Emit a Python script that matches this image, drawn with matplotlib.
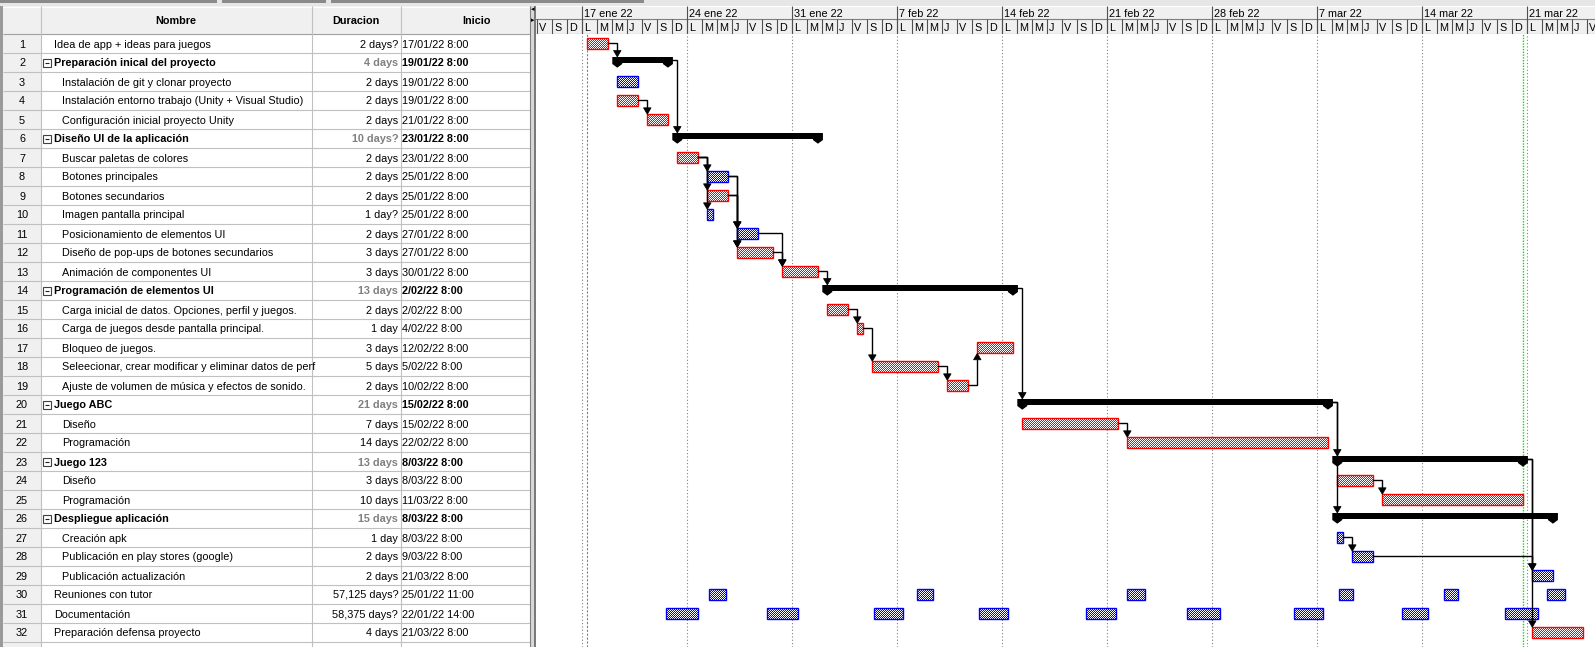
import matplotlib
matplotlib.use("Agg")
import matplotlib.pyplot as plt
import matplotlib.dates as mdates
from matplotlib.patches import Rectangle, Polygon
from matplotlib.path import Path
import numpy as np
from datetime import datetime

plt.rcParams['font.family'] = ['Liberation Sans', 'DejaVu Sans']

# ---------------------------------------------------------------- data
task_names = [
    "Idea de app + ideas para juegos",
    "Preparación inical del proyecto",
    "Instalación de git y clonar proyecto",
    "Instalación entorno trabajo (Unity + Visual Studio)",
    "Configuración inicial proyecto Unity",
    "Diseño UI de la aplicación",
    "Buscar paletas de colores",
    "Botones principales",
    "Botones secundarios",
    "Imagen pantalla principal",
    "Posicionamiento de elementos UI",
    "Diseño de pop-ups de botones secundarios",
    "Animación de componentes UI",
    "Programación de elementos UI",
    "Carga inicial de datos. Opciones, perfil y juegos.",
    "Carga de juegos desde pantalla principal.",
    "Bloqueo de juegos.",
    "Seleecionar, crear modificar y eliminar datos de perf",
    "Ajuste de volumen de música y efectos de sonido.",
    "Juego ABC",
    "Diseño",
    "Programación",
    "Juego 123",
    "Diseño",
    "Programación",
    "Despliegue aplicación",
    "Creación apk",
    "Publicación en play stores (google)",
    "Publicación actualización",
    "Reuniones con tutor",
    "Documentación",
    "Preparación defensa proyecto",
]
outline_level = [0, 1, 2, 2, 2, 1, 2, 2, 2, 2, 2, 2, 2, 1, 2, 2, 2, 2, 2,
                 1, 2, 2, 1, 2, 2, 1, 2, 2, 2, 0, 0, 0]
duration_labels = [
    "2 days?", "4 days", "2 days", "2 days", "2 days", "10 days?", "2 days",
    "2 days", "2 days", "1 day?", "2 days", "3 days", "3 days", "13 days",
    "2 days", "1 day", "3 days", "5 days", "2 days", "21 days", "7 days",
    "14 days", "13 days", "3 days", "10 days", "15 days", "1 day", "2 days",
    "2 days", "57,125 days?", "58,375 days?", "4 days",
]
start_labels = [
    "17/01/22 8:00", "19/01/22 8:00", "19/01/22 8:00", "19/01/22 8:00",
    "21/01/22 8:00", "23/01/22 8:00", "23/01/22 8:00", "25/01/22 8:00",
    "25/01/22 8:00", "25/01/22 8:00", "27/01/22 8:00", "27/01/22 8:00",
    "30/01/22 8:00", "2/02/22 8:00", "2/02/22 8:00", "4/02/22 8:00",
    "12/02/22 8:00", "5/02/22 8:00", "10/02/22 8:00", "15/02/22 8:00",
    "15/02/22 8:00", "22/02/22 8:00", "8/03/22 8:00", "8/03/22 8:00",
    "11/03/22 8:00", "8/03/22 8:00", "8/03/22 8:00", "9/03/22 8:00",
    "21/03/22 8:00", "25/01/22 11:00", "22/01/22 14:00", "21/03/22 8:00",
]
critical = [1, 0, 0, 1, 1, 0, 1, 0, 1, 0, 0, 1, 1, 0, 1, 1, 1, 1, 1,
            0, 1, 1, 0, 1, 1, 0, 0, 0, 0, 0, 0, 1]
meeting_segments = [
    ("25/01/22 11:00", "26/01/22 14:00"), ("8/02/22 8:00", "9/02/22 9:00"),
    ("22/02/22 8:00", "23/02/22 12:00"), ("8/03/22 11:00", "9/03/22 9:00"),
    ("15/03/22 11:00", "16/03/22 9:00"), ("22/03/22 8:00", "23/03/22 12:00"),
]
documentation_segments = [
    ("22/01/22 14:00", "24/01/22 17:00"), ("29/01/22 8:00", "31/01/22 9:00"),
    ("5/02/22 11:00", "7/02/22 9:00"), ("12/02/22 10:00", "14/02/22 9:00"),
    ("19/02/22 14:00", "21/02/22 14:00"), ("26/02/22 8:00", "28/02/22 12:00"),
    ("5/03/22 10:00", "7/03/22 9:00"), ("12/03/22 16:00", "14/03/22 9:00"),
    ("19/03/22 13:00", "21/03/22 17:00"),
]
recurring = {30: meeting_segments, 31: documentation_segments}
links = [(1, 2), (2, 6), (4, 5), (7, 8), (7, 9), (7, 10), (8, 11), (8, 12),
         (9, 11), (9, 12), (11, 13), (12, 13), (13, 14), (15, 16), (16, 18),
         (18, 19), (19, 17), (14, 20), (21, 22), (20, 23), (20, 26),
         (24, 25), (27, 28), (28, 29), (23, 29), (23, 32)]
week_labels = ["17 ene 22", "24 ene 22", "31 ene 22", "7 feb 22", "14 feb 22",
               "21 feb 22", "28 feb 22", "7 mar 22", "14 mar 22", "21 mar 22"]
day_letters = ["L", "M", "M", "J", "V", "S", "D"]
column_titles = ["Nombre", "Duracion", "Inicio"]
status_date = "20/03/22 17:30"

FMT = "%d/%m/%y %H:%M"
MONTHS = {"ene": 1, "feb": 2, "mar": 3}


def to_num(s):
    return mdates.date2num(datetime.strptime(s, FMT))


def week_num(label):
    d, m, y = label.split()
    return mdates.date2num(datetime(2000 + int(y), MONTHS[m], int(d)))


# ---------------------------------------------------------------- layout
W, H, DPI = 1595, 647, 100
HDR_TOP, HDR_BOT, ROW_H = 6, 34, 19
TABLE_R, GANTT_L = 530, 536
COL_NUM_R, COL_NAME_R, COL_DUR_R = 41, 311.5, 400.5
DAY_PX = 15.0
ANCHOR_PX = 582.3
anchor = week_num(week_labels[0])
x0 = anchor - (ANCHOR_PX - GANTT_L) / DAY_PX
x1 = anchor + (W - ANCHOR_PX) / DAY_PX
DX = 1.0 / DAY_PX
DY = 1.0 / ROW_H
y_top = 0.5
y_bot = 0.5 + (H - HDR_BOT) / ROW_H

RED, BLUE = (1.0, 0.0, 0.0), (0.0, 0.0, 1.0)
GRID = "#c0c0c0"
FS = 7.8

fig = plt.figure(figsize=(W / DPI, H / DPI), dpi=DPI, facecolor="white")

# ---------------------------------------------------------------- table / chrome
bg = fig.add_axes([0, 0, 1, 1], zorder=0)
bg.set_xlim(0, W)
bg.set_ylim(H, 0)
bg.set_axis_off()

bg.add_patch(Rectangle((0, 0), W, HDR_TOP, fc="#e6e6e6", ec="none"))
for a, b in [(0, 217), (222, 326), (331, 644)]:
    bg.add_patch(Rectangle((a, 0), b - a, 2.5, fc="#8a8a8a", ec="none"))
bg.add_patch(Rectangle((0, HDR_TOP), 3, H, fc="#9a9a9a", ec="none"))
bg.add_patch(Rectangle((3, HDR_TOP), TABLE_R - 3, HDR_BOT - HDR_TOP, fc="#f0f0f0", ec="none"))
bg.add_patch(Rectangle((3, HDR_BOT), COL_NUM_R - 3, H - HDR_BOT, fc="#f0f0f0", ec="none"))
bg.hlines(HDR_TOP + 0.5, 3, TABLE_R, color="#ffffff", lw=0.8)
n_lines = int((H - HDR_BOT) / ROW_H) + 1
for k in range(n_lines + 1):
    y = HDR_BOT + k * ROW_H
    if y < H:
        bg.hlines(y, 3, TABLE_R, color=GRID if k else "#a0a0a0", lw=0.8)
for xc in (COL_NUM_R, COL_NAME_R, COL_DUR_R):
    bg.vlines(xc, HDR_TOP, H, color=GRID, lw=0.8)
# splitter
bg.add_patch(Rectangle((TABLE_R, HDR_TOP), GANTT_L - TABLE_R, H, fc="#d8d8d8", ec="none"))
bg.vlines(TABLE_R, HDR_TOP, H, color="#808080", lw=0.8)
bg.add_patch(Rectangle((GANTT_L - 2.5, HDR_TOP), 2.5, H, fc="#7a7a7a", ec="none"))
bg.text(TABLE_R + 0.5, 9, "◂", fontsize=5, family="DejaVu Sans", va="center", ha="left")
bg.text(TABLE_R + 0.5, 20, "▸", fontsize=5, family="DejaVu Sans", va="center", ha="left")

hdr_base = HDR_BOT - 10.3
bg.text((COL_NUM_R + COL_NAME_R) / 2, hdr_base, column_titles[0], fontsize=FS,
        weight="bold", ha="center", va="baseline")
bg.text((COL_NAME_R + COL_DUR_R) / 2, hdr_base, column_titles[1], fontsize=FS,
        weight="bold", ha="center", va="baseline")
bg.text(476.7, hdr_base, column_titles[2], fontsize=FS, weight="bold",
        ha="center", va="baseline")

name_clip = Rectangle((COL_NUM_R, HDR_BOT), COL_NAME_R - COL_NUM_R - 1, H)
name_clip.set_transform(bg.transData)

for i, name in enumerate(task_names):
    r = i + 1
    yc = HDR_BOT + (r - 0.5) * ROW_H
    yb = yc + 4.0
    lvl = outline_level[i]
    bg.text((COL_NUM_R + 3) / 2, yb, str(r), fontsize=FS, ha="center", va="baseline")
    if lvl == 1:
        bg.add_patch(Rectangle((43, yc - 4), 8, 8, fill=False, ec="#404040", lw=0.8))
        bg.hlines(yc, 45, 49, color="#202020", lw=0.8)
        tx = 54
        kw = dict(weight="bold")
    elif lvl == 0:
        tx = 54
        kw = {}
    else:
        tx = 62.5
        kw = {}
    t = bg.text(tx, yb, name, fontsize=FS, ha="left", va="baseline", **kw)
    t.set_clip_path(name_clip)
    bg.text(COL_DUR_R - 2.3, yb, duration_labels[i], fontsize=FS, ha="right",
            va="baseline", color="#808080" if lvl == 1 else "black", **kw)
    bg.text(COL_DUR_R + 1.8, yb, start_labels[i], fontsize=FS, ha="left",
            va="baseline", **kw)

# ---------------------------------------------------------------- timescale header
hx = fig.add_axes([GANTT_L / W, 1 - HDR_BOT / H, (W - GANTT_L) / W,
                   (HDR_BOT - HDR_TOP) / H], zorder=1)
hx.set_xlim(x0, x1)
hx.set_ylim(1, 0)
hx.set_axis_off()
hx.add_patch(Rectangle((0, 0), 1, 1, transform=hx.transAxes, fc="#f0f0f0", ec="none"))
MID = 0.48
hx.axhline(MID, color="#808080", lw=0.8)
hx.axhline(0.01, color="#ffffff", lw=0.8)
hx.axhline(0.985, color="#808080", lw=0.8)
first_day = int(np.floor(x0))
for d in range(first_day, int(np.ceil(x1)) + 1):
    wd = mdates.num2date(d).weekday()
    hx.vlines(d, MID, 1, color="#505050", lw=0.8)
    hx.text(d + 1.8 * DX, 0.9, day_letters[wd], fontsize=FS, ha="left",
            va="baseline", clip_on=True)
for lab in week_labels:
    xm = week_num(lab)
    hx.vlines(xm, 0, 1, color="#505050", lw=0.8)
    hx.text(xm + 1.8 * DX, 0.395, lab, fontsize=FS, ha="left", va="baseline",
            clip_on=True)

# ---------------------------------------------------------------- gantt body
gx = fig.add_axes([GANTT_L / W, 0, (W - GANTT_L) / W, (H - HDR_BOT) / H], zorder=2)
gx.set_axis_off()

for lab in week_labels:
    gx.axvline(week_num(lab), color="#808080", lw=0.8, ls=(0, (1, 2)), zorder=1)
gx.axvline(to_num(start_labels[0]), color="#808080", lw=0.8, ls=(0, (2, 1.5)), zorder=1)
gx.axvline(to_num(status_date), color="#00e000", lw=1.0, ls=(0, (1, 1)), zorder=1)

BAR_T, BAR_H = -5.2, 11.0
SUM_T, SUM_B, CAP_B, CAP_M, CAP_W = -5.5, 0.3, 5.2, 1.5, 5.0

bar_paths = {"red": [], "blue": []}
span = {}
is_summary = [lvl == 1 for lvl in outline_level]


def rect_path(xs, xf, ya, yb):
    return Path([(xs, ya), (xf, ya), (xf, yb), (xs, yb), (xs, ya)],
                [Path.MOVETO, Path.LINETO, Path.LINETO, Path.LINETO, Path.CLOSEPOLY])


for i in range(len(task_names)):
    r = i + 1
    if r in recurring:
        segs = [(to_num(a), to_num(b)) for a, b in recurring[r]]
    else:
        s = to_num(start_labels[i])
        dur = float(duration_labels[i].split()[0].replace(",", "."))
        segs = [(s, s + (dur - 1) + 9 / 24)]
    span[r] = (segs[0][0], segs[-1][1])
    if is_summary[i]:
        xs, xf = segs[0]
        gx.add_patch(Rectangle((xs, r + SUM_T * DY), xf - xs, (SUM_B - SUM_T) * DY,
                               fc="black", ec="none", zorder=4))
        for xe in (xs, xf):
            gx.add_patch(Polygon([(xe - CAP_W * DX, r + SUM_T * DY),
                                  (xe + CAP_W * DX, r + SUM_T * DY),
                                  (xe + CAP_W * DX, r + CAP_M * DY),
                                  (xe, r + CAP_B * DY),
                                  (xe - CAP_W * DX, r + CAP_M * DY)],
                                 closed=True, fc="black", ec="none", zorder=4))
        continue
    col = RED if critical[i] else BLUE
    key = "red" if critical[i] else "blue"
    for xs, xf in segs:
        bar_paths[key].append(rect_path(xs, xf, r + BAR_T * DY, r + (BAR_T + BAR_H) * DY))
        gx.add_patch(Rectangle((xs, r + BAR_T * DY), xf - xs, BAR_H * DY, fill=False,
                               ec=col, lw=1.0, zorder=3))

# checkered (dithered) fill, clipped to the bars
nx, ny = W - GANTT_L, H - HDR_BOT
chk = (np.indices((ny, nx)).sum(axis=0) % 2).astype(bool)
for key, col in (("red", RED), ("blue", BLUE)):
    img = np.ones((ny, nx, 4))
    img[chk, :3] = col
    im = gx.imshow(img, extent=(x0, x1, y_bot, y_top), origin="upper",
                   interpolation="nearest", aspect="auto", zorder=2)
    im.set_clip_path(Path.make_compound_path(*bar_paths[key]), transform=gx.transData)

# dependency links
AH_H, AH_W = 6.5, 3.8
for p, s in links:
    pf = span[p][1]
    ss = span[s][0]
    py = p + ((SUM_T + SUM_B) / 2 * DY if is_summary[p - 1] else 0.0)
    if s > p:
        tip = s + (SUM_T if is_summary[s - 1] else BAR_T) * DY
        base = tip - AH_H * DY
    else:
        tip = s + (BAR_T + BAR_H) * DY
        base = tip + AH_H * DY
    gx.plot([pf, ss, ss], [py, py, base], color="black", lw=1.0,
            solid_joinstyle="miter", zorder=5)
    gx.add_patch(Polygon([(ss, tip), (ss - AH_W * DX, base), (ss + AH_W * DX, base)],
                         closed=True, fc="black", ec="black", lw=0.5, zorder=6))

gx.set_xlim(x0, x1)
gx.set_ylim(y_bot, y_top)

fig.savefig("out.png", dpi=DPI, facecolor="white")
